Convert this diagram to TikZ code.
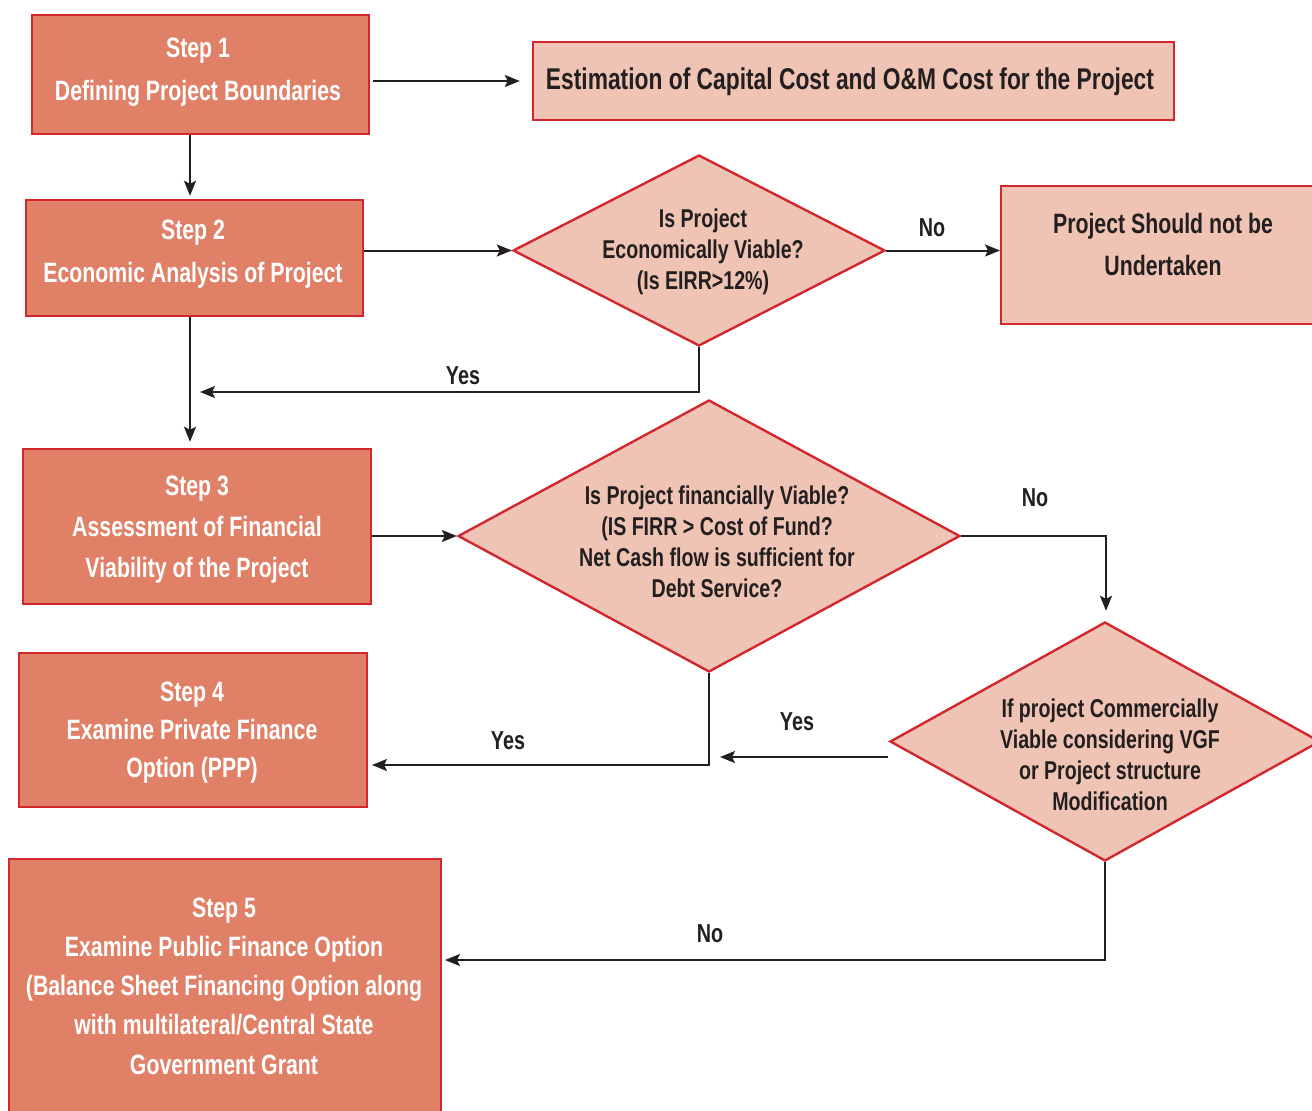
\documentclass[tikz,border=0pt]{standalone}
\usepackage{fontspec}
\setmainfont{Liberation Sans}[FakeStretch=0.76]
\usetikzlibrary{shapes.geometric,arrows.meta}
\definecolor{stepfill}{RGB}{224,128,102}
\definecolor{qfill}{RGB}{240,196,180}
\definecolor{edgered}{RGB}{210,40,45}
\definecolor{ink}{RGB}{35,31,32}
\tikzset{
  stepbox/.style={draw=edgered, fill=stepfill, line width=2.4pt, rectangle, inner sep=0pt},
  infobox/.style={draw=edgered, fill=qfill, line width=2.4pt, rectangle, inner sep=0pt},
  steptext/.style={text=white, font=\fontsize{28}{41}\selectfont\bfseries, align=center},
  infotext/.style={text=ink, font=\fontsize{28}{42}\selectfont\bfseries, align=center},
  decision/.style={draw=edgered, fill=qfill, line width=2.4pt, diamond, inner sep=0pt},
  qtext/.style={text=ink, font=\fontsize{25.8}{31}\selectfont\bfseries, align=center},
  lbl/.style={text=ink, font=\fontsize{26}{30}\selectfont\bfseries},
  arr/.style={draw=ink, line width=2pt, -{Stealth[length=15pt,width=12pt,inset=3pt]}}
}
\begin{document}
\begin{tikzpicture}[x=1pt,y=-1pt]
\useasboundingbox (0,0) rectangle (1312,1111);

% process boxes
\node[stepbox, minimum width=337, minimum height=119] (s1) at (200.5,74.5) {};
\node[steptext, font=\fontsize{28}{43}\selectfont\bfseries] (s1t) at (198,72)
  {Step 1\\Defining Project Boundaries};
\node[infobox, minimum width=641, minimum height=78] (est) at (853.5,81) {};
\node[infotext, font=\fontsize{30}{36}\selectfont\bfseries] (estt) at (850,82)
  {Estimation of Capital Cost and O\&M Cost for the Project};
\node[stepbox, minimum width=337, minimum height=116] (s2) at (194.5,258) {};
\node[steptext, font=\fontsize{28}{43}\selectfont\bfseries] (s2t) at (193,254)
  {Step 2\\Economic Analysis of Project};
\node[infobox, minimum width=316, minimum height=138, anchor=north west] (no1) at (1000,185) {};
\node[infotext] (no1t) at (1163,244) {Project Should not be\\Undertaken};
\node[stepbox, minimum width=348, minimum height=155] (s3) at (197,526.5) {};
\node[steptext] (s3t) at (197,529.5)
  {Step 3\\Assessment of Financial\\Viability of the Project};
\node[stepbox, minimum width=348, minimum height=154] (s4) at (193,730) {};
\node[steptext, font=\fontsize{28}{38}\selectfont\bfseries] (s4t) at (192,733)
  {Step 4\\Examine Private Finance\\Option (PPP)};
\node[stepbox, minimum width=432, minimum height=262, anchor=north west] (s5) at (8,858) {};
\node[steptext, font=\fontsize{28}{39.3}\selectfont\bfseries] (s5t) at (224,986)
  {Step 5\\Examine Public Finance Option\\(Balance Sheet Financing Option along\\with multilateral/Central State\\Government Grant};

% decisions
\node[decision, minimum width=372, minimum height=191] (d1) at (699,250.5) {};
\node[qtext] (d1t) at (703,252) {Is Project\\Economically Viable?\\(Is EIRR>12\%)};
\node[decision, minimum width=502, minimum height=272] (d2) at (709,536) {};
\node[qtext] (d2t) at (717,542) {Is Project financially Viable?\\(IS FIRR > Cost of Fund?\\Net Cash flow is sufficient for\\Debt Service?};
\node[decision, minimum width=430, minimum height=239] (d3) at (1105,741.5) {};
\node[qtext] (d3t) at (1110,755) {If project Commercially\\Viable considering VGF\\or Project structure\\Modification};

% free ends of connectors
\coordinate (j1) at (200,392);
\coordinate (j2) at (372,765);
\coordinate (j3) at (445,960);
\coordinate (y3a) at (888,757);
\coordinate (y3b) at (720,757);
\coordinate (colA) at (190,0);
\coordinate (colB) at (1106,0);

% connectors
\draw[arr] ([xshift=3pt]s1.east |- est.west) -- ([xshift=-12pt]est.west);
\draw[arr] (s1.south -| colA) -- ([yshift=3pt]s2.north -| colA);
\draw[arr] (s2.east |- d1.west) -- (d1.west);
\draw[arr] (d1.east) -- (d1.east -| no1.west);
\draw[arr] (d1.south) |- (j1);
\draw[arr] (s2.south -| colA) -- ([yshift=6pt]s3.north -| colA);
\draw[arr] (s3.east |- d2.west) -- (d2.west);
\draw[arr] (d2.east) -| ([yshift=10pt]d3.north -| colB);
\draw[arr] (d2.south) |- (j2);
\draw[arr] (y3a) -- (y3b);
\draw[arr] (d3.south) |- (j3);

% branch labels
\node[lbl] (l1) at (932,228) {No};
\node[lbl] (l2) at (463,376) {Yes};
\node[lbl] (l3) at (1035,498) {No};
\node[lbl] (l4) at (508,741) {Yes};
\node[lbl] (l5) at (797,722) {Yes};
\node[lbl] (l6) at (710,934) {No};
\end{tikzpicture}
\end{document}
